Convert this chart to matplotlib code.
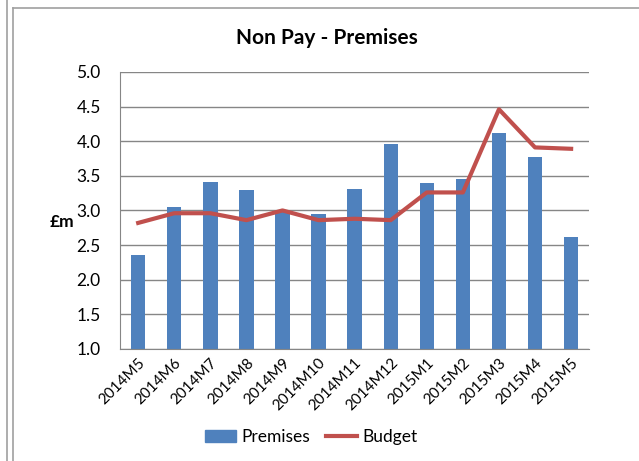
import matplotlib.pyplot as plt
import numpy as np
from matplotlib.lines import Line2D

plt.rcParams['font.family'] = ['Lato', 'DejaVu Sans']

# Monthly non-pay premises spend vs budget (£m)
months = ['2014M5', '2014M6', '2014M7', '2014M8', '2014M9', '2014M10', '2014M11',
          '2014M12', '2015M1', '2015M2', '2015M3', '2015M4', '2015M5']
premises = [2.35, 3.05, 3.41, 3.29, 2.98, 2.95, 3.31, 3.96, 3.39, 3.45, 4.12, 3.77, 2.61]
budget = [2.82, 2.96, 2.96, 2.86, 3.00, 2.86, 2.88, 2.86, 3.26, 3.26, 4.46, 3.91, 3.89]
yticks = [1.0, 1.5, 2.0, 2.5, 3.0, 3.5, 4.0, 4.5, 5.0]

fig = plt.figure(figsize=(6.39, 4.61), dpi=100)
ax = fig.add_axes([0.188, 0.243, 0.734, 0.601])

x = np.arange(len(months))
ax.bar(x, [p - 1.0 for p in premises], bottom=1.0, width=0.4, color='#4F81BD',
       zorder=2, label='Premises')
ax.plot(x, budget, color='#C0504D', linewidth=3, zorder=3, label='Budget',
        solid_joinstyle='round')

ax.set_ylim(1.0, 5.0)
ax.set_xlim(-0.5, len(months) - 0.5)
ax.set_yticks(yticks)
ax.set_yticklabels([f'{t:.1f}' for t in yticks], fontsize=12.5)
ax.set_xticks(x)
ax.set_xticklabels(months, rotation=45, ha='right', rotation_mode='anchor', fontsize=11)
ax.tick_params(length=0, pad=5)
ax.tick_params(axis='y', pad=14)
ax.yaxis.grid(True, color='#868686', linewidth=1, zorder=0)
ax.set_axisbelow(True)
for side in ['top', 'right']:
    ax.spines[side].set_visible(False)
for side in ['left', 'bottom']:
    ax.spines[side].set_color('#868686')

ax.set_ylabel('£m', rotation=0, fontsize=12.5, fontweight='bold', va='center')
ax.yaxis.set_label_coords(-0.125, 0.46)

fig.text(0.512, 0.918, 'Non Pay - Premises', ha='center', va='center',
         fontsize=15, fontweight='bold')

handles = [plt.Rectangle((0, 0), 1, 1, color='#4F81BD'),
           Line2D([0], [0], color='#C0504D', linewidth=3)]
fig.legend(handles, ['Premises', 'Budget'], loc='center', bbox_to_anchor=(0.487, 0.052),
           ncol=2, frameon=False, fontsize=12.5, handlelength=1.8, handletextpad=0.3,
           columnspacing=0.9)

# outer frame lines
fig.add_artist(Line2D([0.011, 0.011], [0, 1], color='#A0A0A0', linewidth=1.2))
fig.add_artist(Line2D([0.021, 0.021], [0, 0.983], color='#A0A0A0', linewidth=1.2))
fig.add_artist(Line2D([0.021, 1], [0.983, 0.983], color='#A0A0A0', linewidth=1.2))

fig.savefig('out.png', dpi=100)
